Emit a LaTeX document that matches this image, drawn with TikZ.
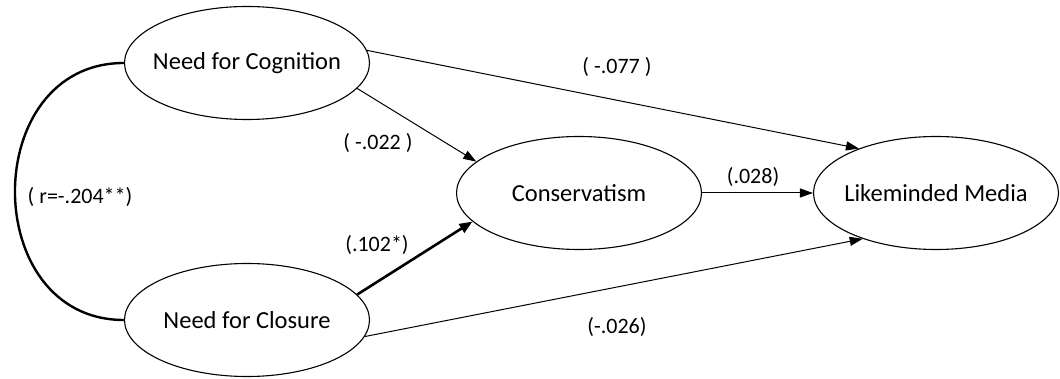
\documentclass[tikz,border=0pt]{standalone}
\usepackage{fontspec}
\setmainfont{Carlito}
\usetikzlibrary{shapes.geometric,arrows.meta}
\newcommand{\ztext}[1]{\makebox[0pt][c]{#1}}
\begin{document}
\begin{tikzpicture}[x=1pt,y=-1pt,
  var/.style={ellipse,draw,line width=1.1pt,minimum width=245pt,minimum height=113pt,inner sep=0pt,font=\fontsize{24.5}{27}\selectfont},
  lbl/.style={font=\fontsize{22}{24}\selectfont,inner sep=0pt},
  path/.style={line width=1pt,-{Triangle[length=13pt,width=9pt]}},
  strong/.style={line width=2.6pt,-{Triangle[length=13pt,width=10pt]}}]
\path[use as bounding box,fill=white] (0,0) rectangle (1060,379);
\node[var] (nfc) at (247,63) {\ztext{Need for Cognition}};
\node[var] (nfcl) at (247,320) {\ztext{Need for Closure}};
\node[var] (cons) at (579,193) {\ztext{Conservatism}};
\node[var] (lm) at (936,193) {\ztext{Likeminded Media}};
\draw[path] (nfc.6) -- (lm.150);
\draw[path] (nfc.-13) -- (cons.163);
\draw[strong] (nfcl.13) -- (cons.195);
\draw[path] (nfcl.-8) -- (lm.212);
\draw[path] (cons.east) -- (lm.west);
\draw[line width=2.4pt] (nfc.west) to[out=180,in=180,looseness=1.45] (nfcl.west);
\node[lbl] (l1) at (617,67) {( -.077 )};
\node[lbl] (l2) at (378,143) {( -.022 )};
\node[lbl] (l3) at (80,197) {( r=-.204**)};
\node[lbl] (l4) at (377,245) {(.102*)};
\node[lbl] (l5) at (617,327) {(-.026)};
\node[lbl] (l6) at (753,177) {(.028)};
\end{tikzpicture}
\end{document}
